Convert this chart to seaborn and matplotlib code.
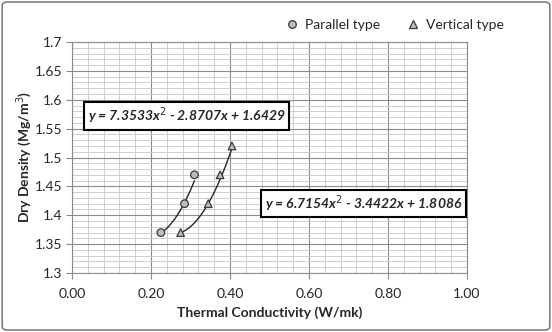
import numpy as np
import pandas as pd
import matplotlib
matplotlib.use("Agg")
import matplotlib.pyplot as plt
import seaborn as sns
from matplotlib.ticker import MultipleLocator
from matplotlib.patches import FancyBboxPatch

sns.set_style("white")
plt.rcParams["font.family"] = ["Lato", "DejaVu Sans"]

# data
parallel_k = [0.225, 0.285, 0.31]
parallel_rho = [1.37, 1.42, 1.47]
vertical_k = [0.275, 0.345, 0.375, 0.405]
vertical_rho = [1.37, 1.42, 1.47, 1.52]

# trendline coefficients (a, b, c) as printed
parallel_fit = [7.3533, -2.8707, 1.6429]
vertical_fit = [6.7154, -3.4422, 1.8086]

x_ticks = [0.0, 0.2, 0.4, 0.6, 0.8, 1.0]
y_ticks = [1.3, 1.35, 1.4, 1.45, 1.5, 1.55, 1.6, 1.65, 1.7]

pts = pd.concat([
    pd.DataFrame({"k": parallel_k, "rho": parallel_rho, "type": "Parallel type"}),
    pd.DataFrame({"k": vertical_k, "rho": vertical_rho, "type": "Vertical type"}),
])

def trend(xs, coef, name):
    xx = np.linspace(min(xs), max(xs), 60)
    return pd.DataFrame({"k": xx, "rho": np.polyval(coef, xx), "type": name})

curves = pd.concat([trend(parallel_k, parallel_fit, "Parallel type"),
                    trend(vertical_k, vertical_fit, "Vertical type")])

fig = plt.figure(figsize=(5.52, 3.32), dpi=100)
ax = fig.add_axes([0.1304, 0.1777, 0.7156, 0.6958])

sns.lineplot(data=curves, x="k", y="rho", units="type", estimator=None,
             color="#262626", lw=1.0, ax=ax, legend=False, sort=False)
sns.scatterplot(data=pts, x="k", y="rho", style="type",
                markers={"Parallel type": "o", "Vertical type": "^"},
                color="#bdbdbd", edgecolor="#3a3a3a", linewidth=0.9, s=30,
                ax=ax, zorder=3)

ax.set_xlim(0, 1)
ax.set_ylim(1.3, 1.7)
ax.set_xticks(x_ticks)
ax.set_xticklabels([f"{v:.2f}" for v in x_ticks])
ax.set_yticks(y_ticks)
ax.set_yticklabels([f"{v:g}" for v in y_ticks])
ax.xaxis.set_minor_locator(MultipleLocator(0.04))
ax.yaxis.set_minor_locator(MultipleLocator(0.01))
ax.grid(which="major", color="#8c8c8c", lw=0.8)
ax.grid(which="minor", color="#c8c8c8", lw=0.6)
ax.set_axisbelow(True)
for s in ax.spines.values():
    s.set_color("#8c8c8c")
    s.set_linewidth(0.8)
ax.tick_params(which="major", direction="out", length=4, color="#8c8c8c",
               labelsize=10, bottom=True, left=True)
ax.tick_params(axis="x", pad=6.5)
ax.tick_params(axis="y", pad=3)
ax.tick_params(which="minor", length=0)

ax.set_xlabel("Thermal Conductivity (W/mk)", fontsize=10, fontweight="bold", labelpad=5)
ax.set_ylabel("Dry Density (Mg/m$^3$)", fontsize=10, fontweight="bold", labelpad=0.5)

box = dict(boxstyle="square,pad=0.25", fc="white", ec="black", lw=1.5)
ax.text(0.29, 1.572, "y = 7.3533x$^2$ - 2.8707x + 1.6429", ha="center", va="center",
        fontsize=10, fontweight="bold", style="italic", bbox=box)
ax.text(0.738, 1.42, "y = 6.7154x$^2$ - 3.4422x + 1.8086", ha="center", va="center",
        fontsize=10, fontweight="bold", style="italic", bbox=box)

handles, labels = ax.get_legend_handles_labels()
ax.legend_.remove()
for h in handles:
    h.set_markersize(5.5)
fig.legend(handles, labels, loc="center right", bbox_to_anchor=(0.935, 0.925),
           ncol=2, frameon=False, fontsize=10, handletextpad=-0.1,
           columnspacing=1.4)

fig.patches.append(FancyBboxPatch((0.004, 0.006), 0.992, 0.988,
                                  boxstyle="round,pad=0,rounding_size=0.01",
                                  transform=fig.transFigure, fc="none",
                                  ec="#7f7f7f", lw=1.2))

fig.savefig("out.png", dpi=100)
